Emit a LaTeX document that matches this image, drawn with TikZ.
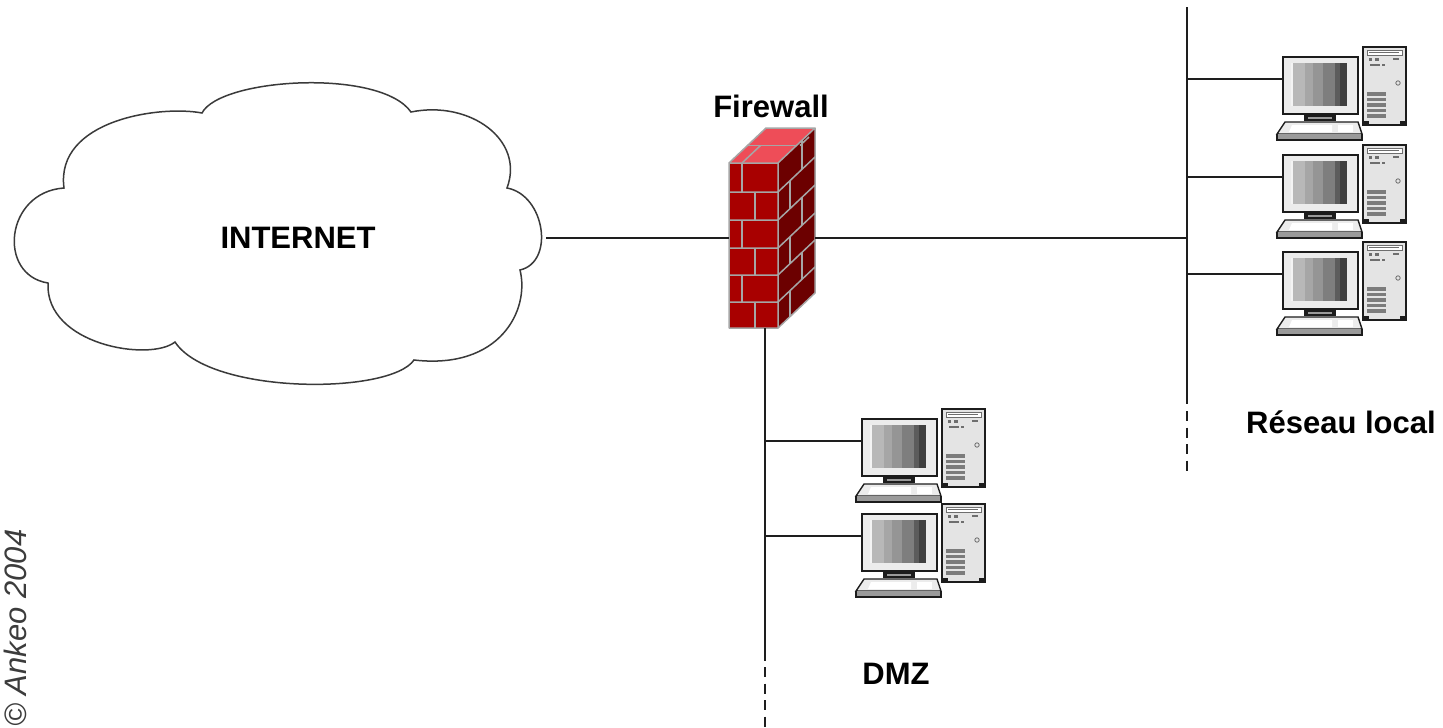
\documentclass[tikz,border=0pt]{standalone}
\usepackage{fontspec}
\setmainfont{Liberation Sans}
\definecolor{wire}{HTML}{1E1E1E}
\definecolor{cloudline}{HTML}{3A3A3A}
\definecolor{brickfront}{HTML}{A80000}
\definecolor{brickside}{HTML}{6C0000}
\definecolor{bricktop}{HTML}{EE4D58}
\definecolor{mortar}{HTML}{A6A6A6}
\definecolor{pcedge}{HTML}{1C1C1C}
\definecolor{pcbody}{HTML}{E4E4E4}
\definecolor{pcface}{HTML}{ECECEC}
\definecolor{pcgrey}{HTML}{9A9A9A}
\definecolor{pcmid}{HTML}{6E6E6E}
\definecolor{pcvent}{HTML}{7C7C7C}
\definecolor{scrA}{HTML}{B8B8B8}
\definecolor{scrB}{HTML}{A6A6A6}
\definecolor{scrC}{HTML}{959595}
\definecolor{scrD}{HTML}{7E7E7E}
\definecolor{scrE}{HTML}{5C5C5C}
\definecolor{scrF}{HTML}{404040}
\definecolor{copyc}{HTML}{3C3C3C}
\begin{document}
\begin{tikzpicture}[x=1pt,y=-1pt]
\tikzset{
  wireline/.style={draw=wire, line width=1.9pt},
  busdash/.style={draw=wire, line width=1.9pt, dash pattern=on 10pt off 6.5pt},
  lbl/.style={font=\fontsize{31}{31}\selectfont\bfseries, inner sep=0pt},
  mortarline/.style={draw=mortar, line width=1.5pt},
  pc/.pic={
    \coordinate (-port) at (0,0);
    % tower
    \draw[line width=1.6pt, draw=pcedge, fill=pcbody] (80,-32) rectangle (123,46);
    \fill[pcedge] (80,42) rectangle (86,47);
    \fill[pcedge] (117,42) rectangle (123,47);
    \draw[line width=0.8pt, draw=pcmid, fill=white] (84,-29) rectangle (119,-24);
    \draw[pcmid, line width=1pt] (86,-26.5) -- (116,-26.5);
    \fill[pcmid] (86,-21) rectangle (89,-18);
    \fill[pcmid] (92,-21) rectangle (96,-18);
    \fill[pcmid] (87,-15) rectangle (97,-13);
    \fill[pcmid] (99,-15) rectangle (102,-13);
    \fill[pcmid] (110,-21) rectangle (116,-19);
    \draw[pcmid, line width=0.8pt] (115,4) circle (2.2);
    \foreach \v in {0,...,4}
      \fill[pcvent] (84,13+\v*5.6) rectangle (103,16.5+\v*5.6);
    % monitor
    \draw[line width=2.2pt, draw=pcedge, fill=pcface] (0,-22) rectangle (75,35);
    \fill[scrA] (8,-16) rectangle (22,27);
    \fill[scrB] (22,-16) rectangle (30,27);
    \fill[scrC] (30,-16) rectangle (40,27);
    \fill[scrD] (40,-16) rectangle (52,27);
    \fill[scrE] (52,-16) rectangle (57,27);
    \fill[scrF] (57,-16) rectangle (64,27);
    \fill[pcface!60!white] (8,-16) rectangle (10,27);
    % stand
    \fill[pcedge] (21,36) rectangle (53,42);
    \fill[pcgrey] (25,37.5) rectangle (49,40);
    % keyboard
    \draw[line width=1.4pt, draw=pcedge, fill=pcface] (2,43) -- (75,43) -- (79,55) -- (-6,55) -- cycle;
    \fill[pcgrey] (-6,55) rectangle (79,61);
    \draw[pcedge, line width=1.2pt] (-6,55) -- (-6,61) -- (79,61) -- (79,55);
    \fill[white] (9,46) -- (49,46) -- (49,53) -- (6,53) -- cycle;
    \fill[white] (55,46) rectangle (70,53);
  }
}
\useasboundingbox (0,0) rectangle (1443,728);

% ---------- cloud ----------
\draw[draw=cloudline, line width=1.5pt, fill=white]
  (202,113) .. controls (220,78) and (380,68) .. (411,112)
  .. controls (470,100) and (525,140) .. (507,188)
  .. controls (545,195) and (555,262) .. (520,270)
  .. controls (530,310) and (500,370) .. (414,360)
  .. controls (390,395) and (210,395) .. (175,342)
  .. controls (150,362) and (45,345) .. (48,283)
  .. controls (-3,275) and (5,192) .. (64,188)
  .. controls (55,120) and (160,105) .. (202,113) -- cycle;
\node[lbl, anchor=base] (internet) at (298,248) {INTERNET};
\coordinate (cloudR) at (546,238);

% ---------- firewall ----------
% side face
\fill[brickside] (778,163) -- (815,128) -- (815,293) -- (778,328) -- cycle;
% top face
\fill[bricktop] (729,163) -- (766,128) -- (815,128) -- (778,163) -- cycle;
% front face
\fill[brickfront] (729,163) rectangle (778,328);
% front mortar
\foreach \yy in {192,220,248,275,302}
  \draw[mortarline] (729,\yy) -- (778,\yy) -- ++(37,-35);
\foreach \ya/\yb in {163/192,220/248,275/302}
  \draw[mortarline] (742,\ya) -- (742,\yb);
\foreach \ya/\yb in {192/220,248/275,302/328}
  \draw[mortarline] (755,\ya) -- (755,\yb);
% side joints
\foreach \ya/\yb/\xo in {163/192/24,192/220/12,220/248/24,248/275/12,275/302/24,302/328/12}
  \draw[mortarline] (778+\xo,\ya-\xo*35/37) -- (778+\xo,\yb-\xo*35/37);
% top joints
\draw[mortarline] (747.5,145.5) -- (796.5,145.5);
\draw[mortarline] (742,163) -- (760.5,145.5);
\draw[mortarline] (800,145.5) -- (809,137);
% outline
\draw[mortarline, line join=round] (729,163) -- (766,128) -- (815,128) -- (815,293) -- (778,328) -- (729,328) -- cycle
  (729,163) -- (778,163) -- (815,128) (778,163) -- (778,328);
\node[lbl, anchor=base] (fwlabel) at (771,117) {Firewall};
\coordinate (fwL) at (729,238);
\coordinate (fwR) at (815,238);
\coordinate (fwB) at (765,328);

% ---------- local network ----------
\coordinate (lanTop) at (1187,7);
\coordinate (lanSolid) at (1187,404);
\coordinate (lanDash) at (1187,411);
\coordinate (lanEnd) at (1187,474);
\draw[wireline] (lanTop) -- (lanSolid);
\draw[busdash] (lanDash) -- (lanEnd);
\pic (lanA) at (1283,79) {pc};
\pic (lanB) at (1283,177) {pc};
\pic (lanC) at (1283,274) {pc};
\foreach \p in {lanA,lanB,lanC}
  \draw[wireline] (\p-port -| lanTop) -- (\p-port);
\node[lbl, anchor=base] (lanlabel) at (1341,433) {Réseau local};

% ---------- DMZ ----------
\coordinate (dmzSolid) at (765,661);
\coordinate (dmzDash) at (765,667);
\coordinate (dmzEnd) at (765,730);
\draw[wireline] (fwB) -- (dmzSolid);
\draw[busdash] (dmzDash) -- (dmzEnd);
\pic (dmzA) at (862,441) {pc};
\pic (dmzB) at (862,536) {pc};
\foreach \p in {dmzA,dmzB}
  \draw[wireline] (\p-port -| fwB) -- (\p-port);
\node[lbl, anchor=base] (dmzlabel) at (896,684) {DMZ};

% ---------- links ----------
\draw[wireline] (cloudR) -- (fwL);
\draw[wireline] (fwR) -- (fwR -| lanTop);

% ---------- credit ----------
\node[font=\fontsize{31}{31}\selectfont\itshape, text=copyc, rotate=90, anchor=base, inner sep=0pt]
  (credit) at (27,628) {© Ankeo 2004};
\end{tikzpicture}
\end{document}
